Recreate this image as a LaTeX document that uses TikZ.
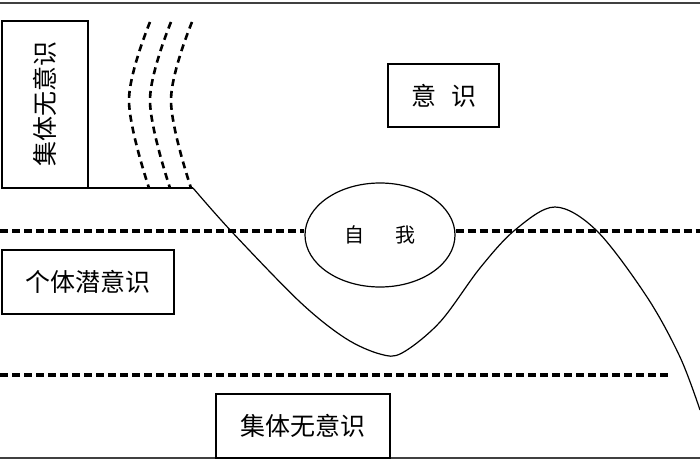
\documentclass[tikz,border=0pt]{standalone}
\usepackage{fontspec}
\setmainfont{Noto Sans CJK SC}
\usetikzlibrary{shapes.geometric}

\begin{document}
\begin{tikzpicture}[x=1pt,y=-1pt,
    box/.style={draw,line width=1.5pt,inner sep=0pt,font=\fontsize{25}{30}\selectfont},
    level/.style={line width=3.4pt,dash pattern=on 8pt off 4pt},
    wave/.style={line width=2.6pt,dash pattern=on 7pt off 5pt},
    frame/.style={line width=2pt,draw=black!75}]
    \useasboundingbox (0,0) rectangle (700,470);

    % Outer lines
    \coordinate (TL) at (0,3);
    \coordinate (TR) at (700,3);
    \coordinate (BL) at (0,458);
    \coordinate (BR) at (700,458);
    \draw[frame] (TL) -- (TR);
    \draw[frame] (BL) -- (BR);

    % Boxes for the layers
    \node[box,rotate=90,minimum width=167,minimum height=86] (colltop) at (45,104.5) {集体无意识};
    \node[box,minimum width=111,minimum height=63] (consc) at (443.5,95.5) {意\hspace{15pt}识};
    \node[box,minimum width=172,minimum height=64] (personal) at (88,282) {个体潜意识};
    \node[box,minimum width=174,minimum height=64] (collbot) at (303,426) {集体无意识};

    % The ego
    \node[draw,ellipse,line width=1.2pt,minimum width=150,minimum height=104,inner sep=0pt,
          font=\fontsize{20}{24}\selectfont] (ego) at (380,235) {自\hspace{31pt}我};

    % Dashed borders between the layers
    \coordinate (U0) at (0,231);
    \coordinate (U1) at (700,231);
    \coordinate (L0) at (0,375);
    \coordinate (L1) at (668,375);
    \draw[level] (U0) -- (ego.west |- U0);
    \draw[level] (ego.east |- U1) -- (U1);
    \draw[level] (L0) -- (L1);

    % Ground line and the waves above it
    \coordinate (G) at (88,188);
    \coordinate (S) at (193,188);
    \draw[line width=1.4pt] (G) -- (S);
    \foreach \dx in {0,21,42}
        \draw[wave] plot[smooth,tension=0.6] coordinates {({150+\dx},22) ({129+\dx},100) ({149+\dx},188)};

    % Curve of the psyche
    \draw[line width=1.2pt] plot[smooth,tension=0.55] coordinates {
        (S) (232,232) (300,302) (345,338) (380,354) (402,353)
        (440,322) (480,268) (515,230) (555,207) (597,231) (647,297) (680,357) (700,410)};
\end{tikzpicture}
\end{document}
